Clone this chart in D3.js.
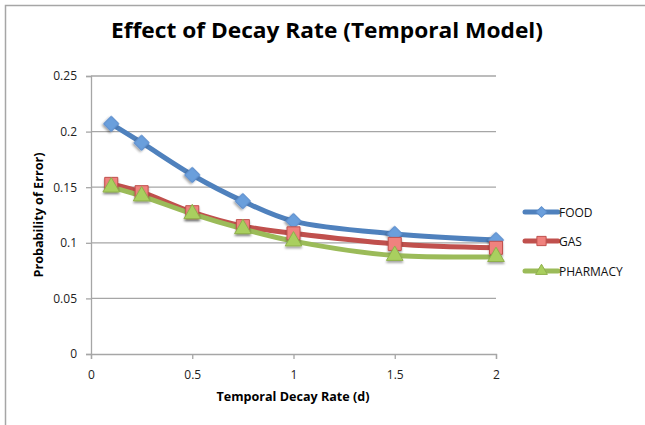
<!DOCTYPE html>
<html>
<head>
<meta charset="utf-8">
<script src="https://cdn.jsdelivr.net/npm/d3@7"></script>
<style>
  body { margin: 0; background: #fff; }
  text { font-family: "Open Sans", "Liberation Sans", sans-serif; }
</style>
</head>
<body>
<svg></svg>
<script>
var width  = 645,
    height = 425;

// data
var decay    = [0.1, 0.25, 0.5, 0.75, 1, 1.5, 2];
var food     = [0.207, 0.190, 0.161, 0.1375, 0.1195, 0.108, 0.1025];
var gas      = [0.153, 0.1455, 0.1275, 0.115, 0.1085, 0.099, 0.0955];
var pharmacy = [0.150, 0.142, 0.126, 0.1125, 0.1015, 0.0885, 0.0875];
var seriesNames = ["FOOD", "GAS", "PHARMACY"];
var xTicks = [0, 0.5, 1, 1.5, 2];
var yTicks = [0, 0.05, 0.1, 0.15, 0.2, 0.25];

var series = [
  {name: seriesNames[0], values: food,     line: "#4f81bd", fill: "#6b9fdc", stroke: "#5a8ccb", shape: "diamond"},
  {name: seriesNames[1], values: gas,      line: "#c0504d", fill: "#f0827e", stroke: "#c0504d", shape: "square"},
  {name: seriesNames[2], values: pharmacy, line: "#9bbb59", fill: "#a9cf5e", stroke: "#8fb04c", shape: "triangle"}
];

var svg = d3.select('svg')
  .attr("width", width)
  .attr("height", height);

// chart frame
svg.append("rect")
  .attr("x", 5.5).attr("y", 5.5)
  .attr("width", 800).attr("height", 600)
  .attr("fill", "none")
  .attr("stroke", "#a6a6a6")
  .attr("stroke-width", 1.5);

var defs = svg.append("defs");
var shadow = defs.append("filter").attr("id", "shadow")
  .attr("x", "-50%").attr("y", "-50%").attr("width", "200%").attr("height", "200%");
shadow.append("feDropShadow")
  .attr("dx", 0).attr("dy", 2).attr("stdDeviation", 1.2)
  .attr("flood-color", "#000").attr("flood-opacity", 0.35);

var x = d3.scaleLinear().domain([0, 2]).range([91, 496]);
var y = d3.scaleLinear().domain([0, 0.25]).range([354, 76]);

// gridlines
svg.append("g")
  .selectAll("line")
  .data(yTicks.slice(1))
  .enter()
    .append("line")
    .attr("x1", x(0)).attr("x2", x(2))
    .attr("y1", function(d){return y(d);})
    .attr("y2", function(d){return y(d);})
    .attr("stroke", "#a6a6a6")
    .attr("stroke-width", 1.3);

var yAxis = svg.append("g")
  .attr("transform", "translate(" + x(0) + ",0)")
  .call(d3.axisLeft(y).tickValues(yTicks).tickSize(5).tickPadding(9)
        .tickFormat(function(d){return d3.format("")(+d.toFixed(2));}));
var xAxis = svg.append("g")
  .attr("transform", "translate(0," + y(0) + ")")
  .call(d3.axisBottom(x).tickValues(xTicks).tickSize(5).tickPadding(11)
        .tickFormat(function(d){return d3.format("")(d);}));

[xAxis, yAxis].forEach(function(a) {
  a.select(".domain").attr("stroke", "#a6a6a6").attr("stroke-width", 1.3);
  a.selectAll(".tick line").attr("stroke", "#a6a6a6").attr("stroke-width", 1.3);
  a.selectAll(".tick text").attr("fill", "#222").style("font-size", "12px")
    .style("font-family", "'Open Sans', sans-serif");
});

// title and axis labels
svg.append("text")
  .attr("x", 327).attr("y", 38)
  .attr("text-anchor", "middle")
  .attr("font-weight", "bold")
  .attr("font-size", 22)
  .attr("textLength", 432).attr("lengthAdjust", "spacingAndGlyphs")
  .text("Effect of Decay Rate (Temporal Model)");

svg.append("text")
  .attr("x", 293).attr("y", 401)
  .attr("text-anchor", "middle")
  .attr("font-weight", "bold")
  .attr("font-size", 12)
  .attr("textLength", 153).attr("lengthAdjust", "spacingAndGlyphs")
  .text("Temporal Decay Rate (d)");

svg.append("text")
  .attr("transform", "translate(43,215) rotate(-90)")
  .attr("text-anchor", "middle")
  .attr("font-weight", "bold")
  .attr("font-size", 12)
  .attr("textLength", 125).attr("lengthAdjust", "spacingAndGlyphs")
  .text("Probability of Error)");

// lines
var line = d3.line()
  .x(function(d, i){return x(decay[i]);})
  .y(function(d){return y(d);})
  .curve(d3.curveCatmullRom.alpha(0.5));

var plot = svg.append("g");
series.forEach(function(s) {
  plot.append("path")
    .datum(s.values)
    .attr("d", line)
    .attr("fill", "none")
    .attr("stroke", s.line)
    .attr("stroke-width", 5)
    .attr("stroke-linejoin", "round");
});

function marker(shape, k) {
  if (shape === "diamond") return {d: d3.symbol().type(d3.symbolSquare).size(115 * k)(), rot: 45};
  if (shape === "square")  return {d: d3.symbol().type(d3.symbolSquare).size(170 * k)(), rot: 0};
  return {d: d3.symbol().type(d3.symbolTriangle).size(120 * k)(), rot: 0};
}

series.forEach(function(s) {
  var m = marker(s.shape, 1);
  plot.selectAll(".m-" + s.name)
    .data(s.values)
    .enter()
      .append("path")
      .attr("d", m.d)
      .attr("transform", function(d, i){
        return "translate(" + x(decay[i]) + "," + y(d) + ") rotate(" + m.rot + ")";
      })
      .attr("fill", s.fill)
      .attr("stroke", s.stroke)
      .attr("stroke-width", 1)
      .attr("filter", "url(#shadow)");
});

// legend
var legend = svg.append("g");
var legY = [212, 241, 271];
series.forEach(function(s, i) {
  var g = legend.append("g").attr("transform", "translate(0," + legY[i] + ")");
  g.append("line")
    .attr("x1", 525).attr("x2", 558)
    .attr("stroke", s.line).attr("stroke-width", 5).attr("stroke-linecap", "round");
  var m = marker(s.shape, 0.5);
  g.append("path")
    .attr("d", m.d)
    .attr("transform", "translate(541.5,0) rotate(" + m.rot + ")")
    .attr("fill", s.fill).attr("stroke", s.stroke).attr("stroke-width", 1);
  g.append("text")
    .attr("x", 559).attr("y", 4.5)
    .attr("font-size", 12)
    .attr("fill", "#111")
    .text(s.name);
});
</script>
</body>
</html>
